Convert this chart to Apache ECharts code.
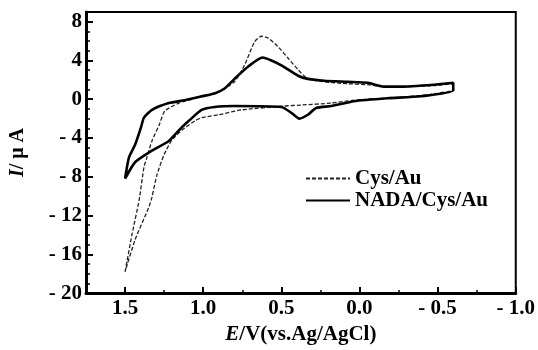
<!DOCTYPE html>
<html>
<head>
<meta charset="utf-8">
<script src="https://cdn.jsdelivr.net/npm/echarts@6/dist/echarts.min.js"></script>
<style>
  html, body { margin: 0; padding: 0; background: #fff; }
  #chart { width: 538px; height: 350px; }
</style>
</head>
<body>
<div id="chart"></div>
<script>
// Cys/Au loop: forward branch from 1.5 V to -0.6 V, then the return branch
const cysForwardE = [1.50, 1.455, 1.41, 1.379, 1.36, 1.328, 1.283, 1.245, 1.156, 1.05, 0.90, 0.80, 0.736, 0.672, 0.627, 0.583, 0.52, 0.455, 0.39, 0.33, 0.226, 0.073, -0.054, -0.156, -0.264, -0.475, -0.60]
const cysForwardI = [-17.8, -13.9, -10.4, -7.0, -6.0, -4.3, -2.7, -1.2, -0.4, 0.1, 0.8, 1.8, 3.5, 5.9, 6.5, 6.3, 5.4, 4.2, 3.0, 2.1, 1.8, 1.6, 1.5, 1.3, 1.3, 1.4, 1.6]
const cysReturnE = [-0.60, -0.455, -0.264, 0.035, 0.18, 0.373, 0.48, 0.755, 0.90, 1.01, 1.05, 1.137, 1.20, 1.25, 1.296, 1.328, 1.347, 1.436, 1.50]
const cysReturnI = [1.0, 0.5, 0.2, -0.1, -0.4, -0.6, -0.7, -1.1, -1.6, -1.9, -2.2, -3.2, -4.2, -5.7, -7.8, -10.1, -11.1, -14.5, -17.8]

// NADA/Cys/Au loop
const nadaForwardE = [1.50, 1.475, 1.436, 1.40, 1.379, 1.328, 1.22, 1.118, 1.01, 0.927, 0.863, 0.80, 0.71, 0.62, 0.564, 0.50, 0.39, 0.33, 0.226, 0.073, -0.054, -0.156, -0.264, -0.475, -0.60]
const nadaForwardI = [-8.2, -6.0, -4.7, -3.0, -1.9, -1.1, -0.4, -0.1, 0.3, 0.6, 1.1, 2.1, 3.4, 4.3, 4.0, 3.5, 2.4, 2.1, 1.9, 1.8, 1.7, 1.3, 1.3, 1.5, 1.7]
const nadaReturnE = [-0.60, -0.39, -0.18, 0.035, 0.18, 0.277, 0.33, 0.385, 0.436, 0.50, 0.80, 0.927, 1.01, 1.09, 1.137, 1.22, 1.328, 1.436, 1.50]
const nadaReturnI = [0.9, 0.3, 0.1, -0.2, -0.7, -0.9, -1.6, -2.0, -1.4, -0.8, -0.7, -0.8, -1.1, -2.2, -2.9, -4.3, -5.3, -6.5, -8.2]

const seriesNames = ['Cys/Au', 'NADA/Cys/Au']
const FONT = 'Liberation Serif'

const toPairs = (es, is) => es.map((e, k) => [e, is[k]])
const signedLabel = (digits) => (v) => (v < 0 ? '- ' + (-v).toFixed(digits) : v.toFixed(digits))

const cysData = toPairs(cysForwardE, cysForwardI).concat(toPairs(cysReturnE, cysReturnI))
const nadaData = toPairs(nadaForwardE, nadaForwardI).concat(toPairs(nadaReturnE, nadaReturnI))

const labelStyle = {
  color: '#000',
  fontFamily: FONT,
  fontWeight: 'bold',
  fontSize: 21
}

const chart = echarts.init(document.getElementById('chart'))

chart.setOption({
  animation: false,
  grid: {
    left: 83,
    right: 21,
    top: 12,
    bottom: 54,
    show: true,
    borderColor: '#000',
    borderWidth: 2
  },
  legend: {
    data: seriesNames,
    orient: 'vertical',
    left: 300,
    top: 163,
    itemWidth: 44,
    itemHeight: 12,
    itemGap: 1,
    itemStyle: { opacity: 0 },
    textStyle: labelStyle
  },
  xAxis: {
    type: 'value',
    inverse: true,
    min: -1.0,
    max: 1.75,
    interval: 0.5,
    name: '{i|E}/V(vs.Ag/AgCl)',
    nameLocation: 'middle',
    nameGap: 30,
    nameTextStyle: {
      ...labelStyle,
      rich: {
        i: { ...labelStyle, fontStyle: 'italic' }
      }
    },
    splitLine: { show: false },
    axisLine: { onZero: false, lineStyle: { color: '#000', width: 3 } },
    axisTick: { inside: true, length: 6, lineStyle: { color: '#000', width: 2 } },
    minorTick: { show: true, splitNumber: 2, length: 3, lineStyle: { color: '#000', width: 1.5 } },
    axisLabel: {
      ...labelStyle,
      margin: 5,
      showMaxLabel: false,
      formatter: signedLabel(1)
    }
  },
  yAxis: {
    type: 'value',
    min: -20,
    max: 9,
    interval: 4,
    name: '{i|I}/ μ A',
    nameLocation: 'middle',
    nameRotate: 90,
    nameGap: 58,
    nameTextStyle: {
      ...labelStyle,
      fontSize: 20,
      rich: {
        i: { ...labelStyle, fontSize: 20, fontStyle: 'italic' }
      }
    },
    splitLine: { show: false },
    axisLine: { onZero: false, lineStyle: { color: '#000', width: 3 } },
    axisTick: { inside: true, length: 7, lineStyle: { color: '#000', width: 2 } },
    minorTick: { show: true, splitNumber: 4, length: 4, lineStyle: { color: '#000', width: 1.5 } },
    axisLabel: {
      ...labelStyle,
      margin: 4,
      showMaxLabel: false,
      formatter: signedLabel(0)
    }
  },
  series: [
    {
      name: seriesNames[0],
      type: 'line',
      data: cysData,
      symbol: 'none',
      smooth: 0.2,
      itemStyle: { color: '#222' },
      lineStyle: { color: '#222', width: 1.3, type: [4, 2] }
    },
    {
      name: seriesNames[1],
      type: 'line',
      data: nadaData,
      symbol: 'none',
      smooth: 0.2,
      itemStyle: { color: '#000' },
      lineStyle: { color: '#000', width: 2.6 }
    }
  ]
})
</script>
</body>
</html>
